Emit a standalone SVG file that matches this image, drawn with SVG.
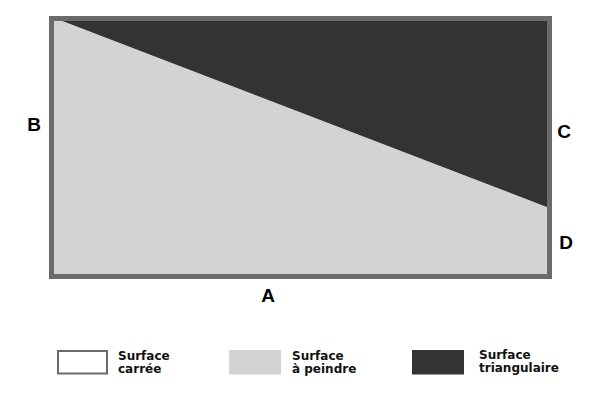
<svg xmlns="http://www.w3.org/2000/svg" width="600" height="400" viewBox="0 0 600 400">
<style>
.lbl{font-family:"Liberation Sans",Arial,sans-serif;font-weight:bold;font-size:19px;fill:#000;text-anchor:middle}
.leg{font-family:"DejaVu Sans","Liberation Sans",sans-serif;font-weight:bold;font-size:12px;fill:#111}
.light{fill:#d3d3d3}
.dark{fill:#333333}
</style>
<rect width="600" height="400" fill="#ffffff"/>
<g id="surface">
<rect class="light" x="51.5" y="18.5" width="498" height="258"/>
<polygon id="triangle" class="dark" points="56,18.5 549.5,18.5 549.5,208"/>
<rect x="51.5" y="18.5" width="498" height="258" fill="none" stroke="#6b6b6b" stroke-width="5"/>
</g>
<g id="labels">
<text class="lbl" x="34" y="131">B</text>
<text class="lbl" x="268" y="302">A</text>
<text class="lbl" x="564" y="138">C</text>
<text class="lbl" x="566" y="249">D</text>
</g>
<g id="legend">
<g id="leg-carree">
<rect x="58" y="351" width="49" height="22.5" fill="#ffffff" stroke="#6b6b6b" stroke-width="2"/>
<text class="leg" x="118" y="360">Surface</text>
<text class="leg" x="118" y="373">carrée</text>
</g>
<g id="leg-peindre">
<rect class="light" x="229" y="350" width="52" height="24.5"/>
<text class="leg" x="292" y="360">Surface</text>
<text class="leg" x="292" y="373">à peindre</text>
</g>
<g id="leg-triangle">
<rect class="dark" x="412" y="350" width="52" height="24.5"/>
<text class="leg" x="479" y="359">Surface</text>
<text class="leg" x="479" y="372">triangulaire</text>
</g>
</g>
</svg>
